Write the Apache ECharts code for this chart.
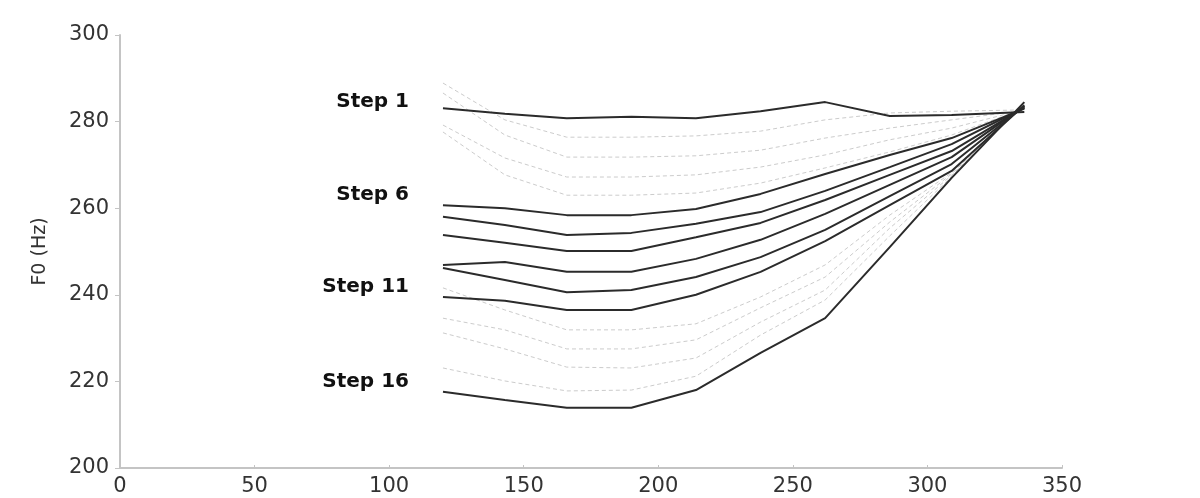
<!DOCTYPE html>
<html>
<head>
	<meta charset="utf-8">
	<script type="text/javascript" src="https://cdn.jsdelivr.net/npm/echarts@6/dist/echarts.min.js"></script>
</head>
<body style="margin:0;background:#fff">

	<div id="main" style="width:1200px;height:498px"></div>

<script type="text/javascript">

  // time points (ms) shared by every step contour
  var times = [120, 143, 166, 190, 214, 238, 262, 286, 309, 336];

  // F0 (Hz) of each continuum step
  var step1  = [283.1, 281.8, 280.8, 281.1, 280.8, 282.4, 284.5, 281.3, 281.5, 282.2];
  var step2  = [288.9, 280.4, 276.4, 276.4, 276.7, 277.8, 280.4, 282.0, 282.4, 282.7];
  var step3  = [286.6, 276.9, 271.8, 271.8, 272.1, 273.4, 276.2, 278.5, 280.4, 282.6];
  var step4  = [279.2, 271.6, 267.2, 267.2, 267.7, 269.5, 272.3, 275.8, 278.5, 282.8];
  var step5  = [277.6, 267.7, 263.0, 263.0, 263.5, 265.8, 269.3, 273.0, 276.9, 283.0];
  var step6  = [260.7, 260.0, 258.4, 258.4, 259.8, 263.3, 267.9, 272.3, 276.2, 283.0];
  var step7  = [258.0, 256.1, 253.8, 254.3, 256.4, 259.1, 264.0, 269.5, 274.8, 283.2];
  var step8  = [253.8, 252.0, 250.1, 250.1, 253.3, 256.6, 261.9, 267.7, 273.2, 283.3];
  var step9  = [246.9, 247.6, 245.3, 245.3, 248.3, 252.7, 258.7, 265.4, 271.8, 283.5];
  var step10 = [246.2, 243.4, 240.6, 241.1, 244.1, 248.7, 255.0, 262.8, 270.2, 283.6];
  var step11 = [239.5, 238.6, 236.5, 236.5, 240.0, 245.3, 252.4, 260.7, 268.6, 283.8];
  var step12 = [241.6, 236.5, 231.9, 231.9, 233.3, 239.5, 246.9, 258.4, 268.2, 283.9];
  var step13 = [234.6, 231.9, 227.5, 227.5, 229.6, 237.0, 244.1, 256.8, 267.9, 284.0];
  var step14 = [231.2, 227.5, 223.3, 223.1, 225.4, 233.7, 241.1, 255.4, 267.6, 284.2];
  var step15 = [223.1, 220.1, 217.8, 218.0, 221.2, 230.7, 238.8, 253.6, 267.3, 284.3];
  var step16 = [217.6, 215.7, 213.9, 213.9, 218.0, 226.6, 234.6, 251.0, 267.0, 284.5];

  var steps = [step1, step2, step3, step4, step5, step6, step7, step8,
               step9, step10, step11, step12, step13, step14, step15, step16];

  // steps drawn solid, the rest are light dashed
  var solidSteps = [1, 6, 7, 8, 9, 10, 11, 16];
  // steps with a name written next to them
  var labelledSteps = [1, 6, 11, 16];

  var yTicks = [200, 220, 240, 260, 280, 300];
  var xTicks = [0, 50, 100, 150, 200, 250, 300, 350];

  var FONT = 'DejaVu Sans, Liberation Sans, Arial, sans-serif';

  var myChart = echarts.init(document.getElementById('main'));

  function buildSeries(idx) {
    var n = idx + 1;
    var solid = solidSteps.indexOf(n) >= 0;
    var data = steps[idx].map(function (v, i) {
      var item = { value: [times[i], v] };
      if (i === 0 && labelledSteps.indexOf(n) >= 0) {
        item.label = {
          show: true,
          position: 'left',
          distance: 34,
          offset: [0, n === 1 ? -6 : -10],
          formatter: 'Step ' + n,
          color: '#111',
          fontSize: 20,
          fontWeight: 'bold',
          fontFamily: FONT
        };
      }
      return item;
    });
    return {
      name: 'Step ' + n,
      type: 'line',
      data: data,
      // invisible symbols so the step labels can be drawn
      symbol: 'circle',
      symbolSize: 0,
      showSymbol: true,
      silent: true,
      animation: false,
      z: solid ? 3 : 2,
      lineStyle: solid
        ? { color: '#2b2b2b', width: 2, type: 'solid' }
        : { color: '#cccccc', width: 1, type: [4, 3] }
    };
  }

  var series = [];
  for (var i = 0; i < steps.length; i++) {
    series.push(buildSeries(i));
  }

  var option = {
    backgroundColor: '#fff',
    animation: false,
    grid: { left: 120, right: 138, top: 35, bottom: 30 },
    xAxis: {
      type: 'value',
      min: xTicks[0],
      max: xTicks[xTicks.length - 1],
      interval: 50,
      axisLine: { show: true, onZero: false, lineStyle: { color: '#c4c4c4', width: 2 } },
      axisTick: { show: true, inside: true, length: 3, lineStyle: { color: '#c4c4c4' } },
      splitLine: { show: false },
      axisLabel: {
        margin: 8,
        color: '#333',
        fontSize: 21,
        fontFamily: FONT
      }
    },
    yAxis: {
      type: 'value',
      min: yTicks[0],
      max: yTicks[yTicks.length - 1],
      interval: 20,
      name: 'F0 (Hz)',
      nameLocation: 'middle',
      nameGap: 70,
      nameRotate: 90,
      nameTextStyle: {
        color: '#333',
        fontSize: 19,
        fontFamily: FONT
      },
      axisLine: { show: true, lineStyle: { color: '#c4c4c4', width: 2 } },
      axisTick: { show: true, length: 5, lineStyle: { color: '#c4c4c4' } },
      splitLine: { show: false },
      axisLabel: {
        margin: 11,
        color: '#333',
        fontSize: 21,
        fontFamily: FONT
      }
    },
    series: series
  };

  myChart.setOption(option);
</script>
</body>
</html>
